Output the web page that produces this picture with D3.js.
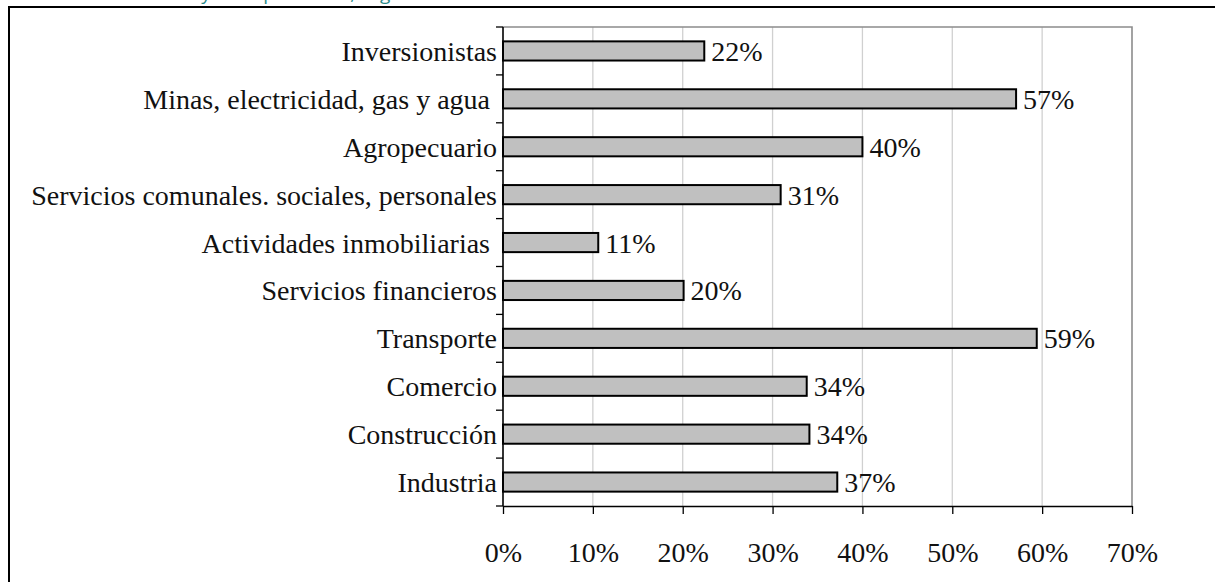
<!DOCTYPE html>
<html><head><meta charset="utf-8">
<script src="https://cdn.jsdelivr.net/npm/d3@7"></script>
<style>
html,body{margin:0;padding:0;background:#fff;overflow:hidden}
text{font-family:"Liberation Serif","Times New Roman",serif;white-space:pre}
</style></head>
<body>
<svg id="chart" width="1215" height="582"></svg>
<script>
const categories = ["Inversionistas","Minas, electricidad, gas y agua ","Agropecuario","Servicios comunales. sociales, personales","Actividades inmobiliarias ","Servicios financieros","Transporte","Comercio","Construcción","Industria"];
const values = [22.4, 57.1, 40.0, 30.9, 10.6, 20.1, 59.4, 33.8, 34.1, 37.2];
const xTicks = [0,10,20,30,40,50,60,70];
const titleText = "Tasa de informalidad y de la población, según sector";

const svg = d3.select("#chart");
const L = 503, R = 1132, T = 27, B = 506;
const x = d3.scaleLinear().domain([0,70]).range([L,R]);
const y = d3.scaleBand().domain(categories).range([T,B]).paddingInner(0.6).paddingOuter(0.3);
const fs = 28;

// cut-off title (only descenders visible, as in the reference)
svg.append("text").attr("x", 10).attr("y", 0).attr("fill","#2a8a8a")
  .style("font-family","'Open Sans',sans-serif").style("font-size","19px").text(titleText);

// outer frame
svg.append("rect").attr("x",9).attr("y",7).attr("width",1300).attr("height",700)
  .attr("fill","none").attr("stroke","#000").attr("stroke-width",2);

// gridlines
svg.append("g").selectAll("line").data(xTicks.filter(t=>t>0 && t<70)).join("line")
  .attr("x1",d=>x(d)).attr("x2",d=>x(d)).attr("y1",T).attr("y2",B)
  .attr("stroke","#d0d0d0").attr("stroke-width",1.3);
// plot border top/right
svg.append("path").attr("d",`M${x(0)},${T}H${x(70)}V${B}`).attr("fill","none")
  .attr("stroke","#8c8c8c").attr("stroke-width",1.6);

// bars
svg.append("g").selectAll("rect").data(categories).join("rect")
  .attr("x",x(0)).attr("y",d=>y(d)).attr("width",(d,i)=>x(values[i])-x(0))
  .attr("height",y.bandwidth()).attr("fill","#c0c0c0").attr("stroke","#000").attr("stroke-width",2);

// value labels
svg.append("g").selectAll("text").data(categories).join("text")
  .attr("x",(d,i)=>x(values[i])+7).attr("y",d=>y(d)+y.bandwidth()/2+10)
  .style("font-size",fs+"px").attr("fill","#111")
  .text((d,i)=>d3.format(".0f")(values[i])+"%");

// category labels
svg.append("g").selectAll("text").data(categories).join("text")
  .attr("x",497).attr("y",d=>y(d)+y.bandwidth()/2+10).attr("text-anchor","end")
  .style("font-size",fs+"px").attr("fill","#111").text(d=>d);

// left axis line + ticks at band boundaries
const step = y.step();
const bounds = categories.map(c=>y(c)-step*y.paddingInner()/2).concat([B]);
svg.append("line").attr("x1",L).attr("x2",L).attr("y1",T).attr("y2",B).attr("stroke","#000").attr("stroke-width",1.6);
svg.append("g").selectAll("line").data(bounds).join("line")
  .attr("x1",L-7).attr("x2",L).attr("y1",d=>d).attr("y2",d=>d).attr("stroke","#000").attr("stroke-width",1.3);

// x axis
const xa = svg.append("g").attr("transform",`translate(0,${B})`)
  .call(d3.axisBottom(x).tickValues(xTicks).tickSize(8).tickSizeOuter(0).tickFormat(d=>d+"%"));
xa.select(".domain").attr("stroke","#000").attr("stroke-width",1.6);
xa.selectAll(".tick line").attr("stroke","#000").attr("stroke-width",1.3);
xa.selectAll(".tick text").attr("y",56).attr("dy",0).style("font-size",fs+"px")
  .style("font-family","'Liberation Serif','Times New Roman',serif").attr("fill","#111");
</script>
</body></html>
